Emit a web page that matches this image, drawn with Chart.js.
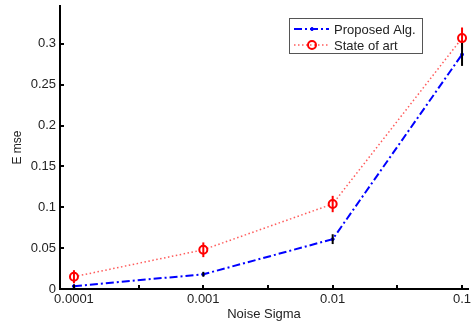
<!DOCTYPE html>
<html>
<head>
<meta charset="utf-8">
<script src="https://cdn.jsdelivr.net/npm/chart.js@4"></script>
<style>
  html, body { margin: 0; padding: 0; background: #fff; }
  #wrap { width: 474px; height: 326px; }
</style>
</head>
<body>
<div id="wrap"><canvas id="mseChart" width="474" height="326"></canvas></div>
<script>
// data
var sigmaLabels = ['0.0001', '0.001', '0.01', '0.1'];
var sigmaValues = [0.0001, 0.001, 0.01, 0.1];
var proposedMse = [0.0035, 0.018, 0.061, 0.287];
var proposedErr = [0.002, 0.003, 0.006, 0.014];
var stateMse = [0.015, 0.048, 0.104, 0.307];
var stateErr = [0.008, 0.009, 0.010, 0.013];
var yTickValues = [0, 0.05, 0.1, 0.15, 0.2, 0.25, 0.3];
var xMinorTicks = [0.000316, 0.00316, 0.0316];

var fontFamily = "'Liberation Sans', Arial, sans-serif";

function toPoints(ys) {
    return sigmaValues.map(function(s, i) { return { x: s, y: ys[i] }; });
}

// error bars + inward tick marks + legend box
var errorBarPlugin = {
    id: 'errorBars',
    afterDatasetsDraw: function(chart) {
        var ctx = chart.ctx;
        var xs = chart.scales.x, ys = chart.scales.y;
        var bars = [
            { mse: stateMse, err: stateErr, color: '#ff0000' },
            { mse: proposedMse, err: proposedErr, color: '#000000' }
        ];
        ctx.save();
        ctx.lineWidth = 2;
        bars.forEach(function(b) {
            ctx.strokeStyle = b.color;
            sigmaValues.forEach(function(s, i) {
                var px = xs.getPixelForValue(s);
                ctx.beginPath();
                ctx.moveTo(px, ys.getPixelForValue(b.mse[i] - b.err[i]));
                ctx.lineTo(px, ys.getPixelForValue(b.mse[i] + b.err[i]));
                ctx.stroke();
            });
        });
        ctx.restore();
    },
    afterDraw: function(chart) {
        var ctx = chart.ctx;
        var xs = chart.scales.x, ys = chart.scales.y;
        var area = chart.chartArea;
        ctx.save();
        ctx.strokeStyle = '#000';
        ctx.lineWidth = 2;
        yTickValues.forEach(function(v) {
            var py = Math.round(ys.getPixelForValue(v));
            ctx.beginPath();
            ctx.moveTo(area.left, py);
            ctx.lineTo(area.left + 4, py);
            ctx.stroke();
        });
        sigmaValues.concat(xMinorTicks).forEach(function(v) {
            var px = Math.round(xs.getPixelForValue(v));
            ctx.beginPath();
            ctx.moveTo(px, area.bottom);
            ctx.lineTo(px, area.bottom - 4);
            ctx.stroke();
        });

        // legend box
        var bx = 289, by = 18, bw = 133, bh = 35;
        ctx.fillStyle = '#fff';
        ctx.fillRect(bx, by, bw, bh);
        ctx.lineWidth = 1;
        ctx.strokeStyle = '#555';
        ctx.strokeRect(bx + 0.5, by + 0.5, bw, bh);

        var rows = [
            { label: 'Proposed Alg.', y: by + 11, ds: chart.data.datasets[0] },
            { label: 'State of art', y: by + 27, ds: chart.data.datasets[1] }
        ];
        rows.forEach(function(r) {
            ctx.save();
            ctx.strokeStyle = r.ds.borderColor;
            ctx.lineWidth = r.ds.borderWidth;
            ctx.setLineDash(r.ds.borderDash);
            ctx.beginPath();
            ctx.moveTo(bx + 5, r.y);
            ctx.lineTo(bx + 40, r.y);
            ctx.stroke();
            ctx.setLineDash([]);
            ctx.beginPath();
            ctx.arc(bx + 23, r.y, r.ds.pointRadius, 0, Math.PI * 2);
            if (r.ds.pointBackgroundColor !== '#fff') {
                ctx.fillStyle = r.ds.pointBackgroundColor;
                ctx.fill();
            }
            ctx.strokeStyle = r.ds.pointBorderColor;
            ctx.lineWidth = r.ds.pointBorderWidth;
            ctx.stroke();
            ctx.restore();
            ctx.fillStyle = '#222';
            ctx.font = '13px ' + fontFamily;
            ctx.textBaseline = 'middle';
            ctx.fillText(r.label, bx + 45, r.y + 1);
        });
        ctx.restore();
    }
};

var ctx = document.getElementById('mseChart').getContext('2d');
var mseChart = new Chart(ctx, {
    type: 'line',
    data: {
        datasets: [
            {
                label: 'Proposed Alg.',
                data: toPoints(proposedMse),
                borderColor: '#0000ff',
                borderWidth: 2,
                borderDash: [8, 3, 2, 3],
                pointRadius: 1.5,
                pointBackgroundColor: '#0000ff',
                pointBorderColor: '#0000ff',
                pointBorderWidth: 1,
                fill: false,
                tension: 0
            },
            {
                label: 'State of art',
                data: toPoints(stateMse),
                borderColor: 'rgba(255, 50, 50, 0.8)',
                borderWidth: 1.5,
                borderDash: [1.5, 2.5],
                pointRadius: 4,
                pointBackgroundColor: '#fff',
                pointBorderColor: '#ff0000',
                pointBorderWidth: 2,
                fill: false,
                tension: 0
            }
        ]
    },
    options: {
        responsive: false,
        animation: false,
        layout: { padding: { top: 1, right: 0, left: 0, bottom: 0 } },
        plugins: {
            legend: { display: false },
            tooltip: { enabled: false }
        },
        scales: {
            x: {
                type: 'logarithmic',
                min: 0.0000780,
                max: 0.1112,
                afterFit: function(scale) {
                    scale.height = 37;
                    scale.paddingLeft = 0;
                    scale.paddingRight = 0;
                },
                afterBuildTicks: function(scale) {
                    scale.ticks = sigmaValues.map(function(v) { return { value: v }; });
                },
                ticks: {
                    autoSkip: false,
                    maxRotation: 0,
                    padding: 3,
                    color: '#222',
                    font: { family: fontFamily, size: 13 },
                    callback: function(value, i) { return sigmaLabels[i]; }
                },
                grid: { display: false, drawTicks: false },
                border: { display: true, color: '#000', width: 2 },
                title: {
                    display: true,
                    text: 'Noise Sigma',
                    color: '#222',
                    font: { family: fontFamily, size: 13 },
                    padding: { top: 0, bottom: 4 }
                }
            },
            y: {
                min: 0,
                max: 0.3463,
                afterFit: function(scale) {
                    scale.width = 60;
                    scale.paddingTop = 0;
                    scale.paddingBottom = 0;
                },
                afterBuildTicks: function(scale) {
                    scale.ticks = yTickValues.map(function(v) { return { value: v }; });
                },
                ticks: {
                    padding: 4,
                    color: '#222',
                    font: { family: fontFamily, size: 13 },
                    callback: function(value) { return String(Math.round(value * 100) / 100); }
                },
                grid: { display: false, drawTicks: false },
                border: { display: true, color: '#000', width: 2 },
                title: {
                    display: true,
                    text: 'E mse',
                    color: '#222',
                    font: { family: fontFamily, size: 12 },
                    padding: { top: 10, bottom: 0 }
                }
            }
        }
    },
    plugins: [errorBarPlugin]
});
</script>
</body>
</html>
